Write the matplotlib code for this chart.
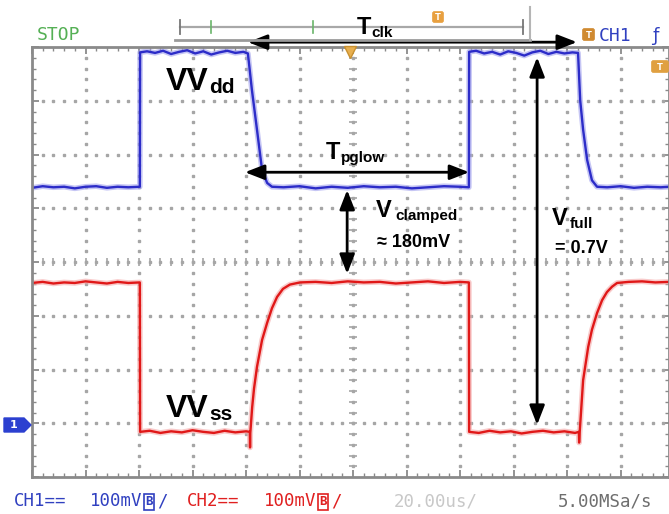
import matplotlib
matplotlib.use('Agg')
import matplotlib.pyplot as plt
import numpy as np
from matplotlib.patches import Polygon, FancyBboxPatch

W, H = 669, 514

# ---------------- data (time in us, 20 us/div; voltage in mV, 100 mV/div) -------------
ch1_t = [0, 4, 8, 12, 16, 20, 24, 28, 32, 36, 40.3,
         40.4, 43, 46, 49, 52, 55, 58, 61, 64, 67, 70, 73, 76, 79,
         80.7, 82.2, 84.1, 86.0, 87.9, 89.7,
         94, 100, 106, 112, 118, 124, 130, 136, 142, 148, 154, 160, 163.3,
         163.4, 166, 169, 172, 175, 178, 181, 184, 187, 190, 193, 196, 199, 202,
         204.1, 204.9, 206.0, 207.5, 209.3, 211.2,
         215, 220, 225, 230, 235, 238.1]
ch1_v = [138, 141, 139, 140, 137, 140, 141, 138, 140, 139, 140,
         390, 392, 389, 393, 387, 391, 394, 388, 392, 386, 390, 393, 389, 391,
         388, 320, 246, 171, 147, 140,
         139, 141, 137, 140, 138, 141, 139, 140, 137, 139, 141, 140, 139,
         391, 393, 388, 391, 386, 392, 389, 384, 390, 393, 387, 391, 388, 390,
         389, 301, 246, 190, 152, 140,
         139, 141, 138, 140, 139, 140]

ch2_t = [0, 4, 8, 12, 16, 20, 24, 28, 32, 36, 40.3,
         40.4, 44, 48, 52, 56, 60, 64, 68, 72, 76, 80, 81.4,
         81.5, 81.6, 82.3, 83.0, 84.1, 86.0, 87.9, 89.7, 91.6, 93.8, 96.4, 100.2,
         106, 112, 118, 124, 130, 136, 142, 148, 154, 160, 163.3,
         163.4, 167, 171, 175, 179, 183, 187, 191, 195, 199, 203, 204.4,
         204.5, 204.7, 206.0, 207.9, 209.3, 211.2, 213.1, 214.9, 216.8, 218.7,
         223, 228, 233, 238.1]
ch2_v = [-39, -37, -40, -38, -39, -36, -38, -40, -37, -39, -38,
         -316, -314, -318, -315, -317, -313, -316, -318, -314, -317, -315, -316,
         -345, -318, -270, -235, -195, -145, -113, -86, -65, -50, -42, -38,
         -37, -39, -36, -38, -37, -40, -38, -36, -39, -37, -38,
         -316, -318, -314, -317, -315, -319, -316, -314, -317, -315, -318, -316,
         -336, -318, -220, -158, -126, -95, -71, -56, -46, -39,
         -37, -36, -38, -37]

vdd_high, vdd_low = 391, 140
vss_high, vss_low = -39, -316
t_rise = [40.4, 163.4]
t_fall = [80.7, 204.1]

x_max = 238.1
y_lo, y_hi = -400, 400

# ---------------- figure ----------------
fig = plt.figure(figsize=(W / 100, H / 100), dpi=100)
fig.patch.set_facecolor('white')
ax = fig.add_axes([32 / W, (H - 477) / H, (W - 32) / W, 430 / H])
ax.set_xlim(0, x_max)
ax.set_ylim(y_lo, y_hi)

grid_c = '#a6a6a6'
# dotted division grid
ys_sub = np.arange(y_lo + 20, y_hi, 20)
for k in range(1, 12):
    xk = k * 20
    if k == 6:
        ax.plot([xk] * len(ys_sub), ys_sub, linestyle='none', marker='_', ms=6,
                mew=1.2, color=grid_c)
    ax.plot([xk] * len(ys_sub), ys_sub, linestyle='none', marker='s', ms=1.6,
            color=grid_c)
xs_sub = np.arange(4, x_max, 4)
for j in range(-3, 4):
    yj = j * 100
    if j == 0:
        ax.plot(xs_sub, [yj] * len(xs_sub), linestyle='none', marker='|', ms=6,
                mew=1.2, color=grid_c)
    ax.plot(xs_sub, [yj] * len(xs_sub), linestyle='none', marker='s', ms=1.6,
            color=grid_c)

# traces
ax.plot(ch2_t, ch2_v, color='#f4a8a8', lw=4.0, alpha=0.6, solid_joinstyle='round')
ax.plot(ch2_t, ch2_v, color='#e01818', lw=1.7, solid_joinstyle='round')
ax.plot(ch1_t, ch1_v, color='#a0a0ee', lw=4.0, alpha=0.6, solid_joinstyle='round')
ax.plot(ch1_t, ch1_v, color='#2c2cc8', lw=1.7, solid_joinstyle='round')

# frame & ticks
for s in ax.spines.values():
    s.set_color('#8a8a8a')
    s.set_linewidth(2.0)
ax.set_xticks(np.arange(0, x_max, 20))
ax.set_xticks(np.arange(0, x_max, 4), minor=True)
ax.set_yticks(np.arange(y_lo, y_hi + 1, 100))
ax.set_yticks(np.arange(y_lo, y_hi + 1, 20), minor=True)
ax.tick_params(which='both', direction='in', top=True, right=True, bottom=True,
               left=True, labelbottom=False, labelleft=False, color='#8a8a8a')
ax.tick_params(which='major', length=5, width=1.3)
ax.tick_params(which='minor', length=3, width=1.0)

# ---------------- annotation arrows ----------------
def dbl_arrow(p0, p1, hl=0.9, hw=0.35):
    ax.annotate('', xy=p1, xytext=p0, annotation_clip=False,
                arrowprops=dict(arrowstyle=f'<|-|>,head_length={hl},head_width={hw}',
                                mutation_scale=13, lw=2.0, color='black',
                                shrinkA=0, shrinkB=0))

dbl_arrow((t_fall[0], 409), (t_fall[1] - 0.4, 409))          # T_clk
dbl_arrow((t_fall[0] - 1.1, 167), (t_rise[1], 167))          # T_pglow
dbl_arrow((117.8, vdd_low - 6), (117.8, vss_high + 17))      # V_clamped
dbl_arrow((188.8, vdd_high - 10), (188.8, vss_low + 13))     # V_full

# ---------------- overlay (pixel coordinates) ----------------
ov = fig.add_axes([0, 0, 1, 1], facecolor='none')
ov.set_xlim(0, W)
ov.set_ylim(H, 0)
ov.axis('off')
ov.set_zorder(5)

bold = dict(family='Liberation Sans', weight='bold', color='black')

def label(x, yb, main, sub, ms, ss, xs, ysb):
    ov.text(x, yb, main, fontsize=ms, ha='left', va='baseline', **bold)
    ov.text(xs, ysb, sub, fontsize=ss, ha='left', va='baseline', **bold)

label(166, 90, 'VV', 'dd', 23, 15, 209, 93)
label(166, 417, 'VV', 'ss', 23, 15, 209, 420)
label(357, 34, 'T', 'clk', 17, 11, 371, 37)
label(326, 159, 'T', 'pglow', 17, 11, 341, 162)
label(376, 217, 'V', 'clamped', 17, 11, 395, 220)
label(552, 225, 'V', 'full', 17, 11, 570, 228)
ov.text(377, 247, '\u2248 180mV', fontsize=13, ha='left', va='baseline', **bold)
ov.text(555, 253, '= 0.7V', fontsize=13, ha='left', va='baseline', **bold)

# header
mono = 'DejaVu Sans Mono'
ov.text(37, 40, 'STOP', fontsize=13, family=mono, color='#55b055', ha='left',
        va='baseline')
ov.plot([180, 523], [27, 27], color='#a8a8a8', lw=1.6)
ov.plot([180, 180], [20, 34], color='#777777', lw=1.3)
ov.plot([523, 523], [20, 34], color='#777777', lw=1.3)
ov.plot([211, 211], [21, 33], color='#6ab56a', lw=1.2)
ov.plot([313, 313], [21, 33], color='#6ab56a', lw=1.2)
ov.plot([175, 530], [40, 40], color='#9a9a9a', lw=2.0)
ov.plot([530, 530], [7, 40], color='#b5b5b5', lw=1.5)

def tag(x, y, w, h, fc, txt, tc='white', fs=7):
    ov.add_patch(FancyBboxPatch((x, y), w, h, boxstyle='round,pad=0.5,rounding_size=2',
                                fc=fc, ec=fc, lw=0.5))
    ov.text(x + w / 2, y + h / 2 + 0.5, txt, fontsize=fs, color=tc, ha='center',
            va='center', weight='bold', family='DejaVu Sans')

tag(433, 12, 10, 10, '#e8a040', 'T', fs=6)
tag(583, 29, 11, 11, '#d08a30', 'T', fs=6)
ov.text(599, 41, 'CH1', fontsize=13, family=mono, color='#3040c0', ha='left',
        va='baseline')
ov.text(652, 41, '\u0192', fontsize=13, family='DejaVu Sans', color='#3040c0',
        ha='left', va='baseline')
tag(652, 61, 16, 11, '#e0a040', 'T', fs=6)
ov.plot([350], [52], marker='v', ms=8, color='#e8b050', mec='#c89030')

# channel 1 marker on the left
ov.add_patch(Polygon([[4, 418], [24, 418], [31, 425], [24, 432], [4, 432]],
                     closed=True, fc='#2c40d0', ec='#2c40d0'))
ov.text(14, 425.5, '1', fontsize=8, color='white', ha='center', va='center',
        weight='bold')

# footer
fy = 506
ov.text(14, fy, 'CH1==', fontsize=12.5, family=mono, color='#3040c0', ha='left',
        va='baseline')
ov.text(90, fy, '100mV', fontsize=12.5, family=mono, color='#3040c0', ha='left',
        va='baseline')
ov.text(149, fy - 1, 'B', fontsize=9, family=mono, color='#3040c0', ha='center',
        va='baseline', weight='bold',
        bbox=dict(boxstyle='square,pad=0.12', fc='none', ec='#3040c0', lw=1.2))
ov.text(157, fy, '/', fontsize=12.5, family=mono, color='#3040c0', ha='left',
        va='baseline')
ov.text(187, fy, 'CH2==', fontsize=12.5, family=mono, color='#e02020', ha='left',
        va='baseline')
ov.text(264, fy, '100mV', fontsize=12.5, family=mono, color='#e02020', ha='left',
        va='baseline')
ov.text(323, fy - 1, 'B', fontsize=9, family=mono, color='#e02020', ha='center',
        va='baseline', weight='bold',
        bbox=dict(boxstyle='square,pad=0.12', fc='none', ec='#e02020', lw=1.2))
ov.text(331, fy, '/', fontsize=12.5, family=mono, color='#e02020', ha='left',
        va='baseline')
ov.text(394, fy, '20.00us/', fontsize=12.5, family=mono, color='#c8c8c8',
        ha='left', va='baseline')
ov.text(558, fy, '5.00MSa/s', fontsize=12.5, family=mono, color='#6e6e6e',
        ha='left', va='baseline')

fig.savefig('out.png', dpi=100, facecolor='white')
